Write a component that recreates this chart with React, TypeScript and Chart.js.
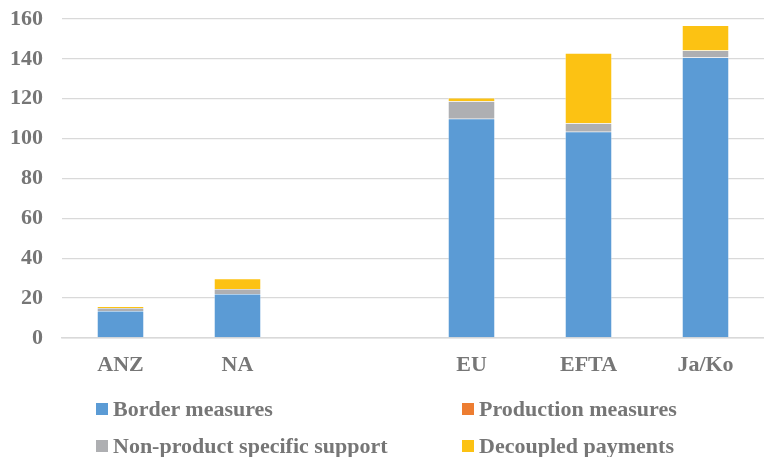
import React, { useEffect, useRef } from "react";
import { Chart, registerables } from "chart.js";

Chart.register(...registerables);

// Regions along the x axis (the blank slot separates the two groups)
const regions = ["ANZ", "NA", "", "EU", "EFTA", "Ja/Ko"];

// Support by category, stacked per region
const borderMeasures = [13.6, 22.1, null, 110.0, 103.5, 140.7];
const productionMeasures = [0, 0, null, 0, 0, 0];
const nonProductSupport = [1.5, 2.5, null, 8.8, 4.2, 3.5];
const decoupledPayments = [0.8, 5.2, null, 1.6, 35.2, 12.6];

const seriesNames = [
  "Border measures",
  "Production measures",
  "Non-product specific support",
  "Decoupled payments",
];
const seriesColors = ["#5B9BD5", "#ED7D31", "#AEAFB2", "#FCC213"];

const yTicks = { min: 0, max: 160, step: 20 };

const FONT = "'Liberation Serif', 'Times New Roman', serif";
const TEXT = "#767676";

export default function App() {
  const canvasRef = useRef<HTMLCanvasElement | null>(null);

  useEffect(() => {
    const canvas = canvasRef.current;
    if (!canvas) return;
    const values = [borderMeasures, productionMeasures, nonProductSupport, decoupledPayments];
    const chart = new Chart(canvas, {
      type: "bar",
      data: {
        labels: regions,
        datasets: values.map((data, i) => ({
          label: seriesNames[i],
          data,
          backgroundColor: seriesColors[i],
          borderColor: "rgba(255,255,255,0.55)",
          borderWidth: 0.6,
          barPercentage: 1,
          categoryPercentage: 0.4,
        })),
      },
      options: {
        responsive: false,
        animation: false,
        devicePixelRatio: 1,
        layout: { autoPadding: false, padding: { top: 19, left: 0, right: 0, bottom: 79 } },
        plugins: {
          legend: { display: false },
          tooltip: { enabled: false },
        },
        scales: {
          x: {
            stacked: true,
            grid: { display: false, drawTicks: false },
            border: { color: "#d9d9d9", width: 1.5 },
            afterFit: (scale: any) => {
              scale.height = 40;
              scale.paddingLeft = 0;
              scale.paddingRight = 0;
            },
            ticks: {
              color: TEXT,
              padding: 14,
              font: { family: FONT, size: 22, weight: "bold" },
            },
          },
          y: {
            stacked: true,
            min: yTicks.min,
            max: yTicks.max,
            grid: { color: "#d9d9d9", lineWidth: 1.3, drawTicks: false },
            border: { display: false },
            afterFit: (scale: any) => {
              scale.width = 62;
              scale.paddingTop = 0;
              scale.paddingBottom = 0;
            },
            ticks: {
              stepSize: yTicks.step,
              color: TEXT,
              padding: 19,
              font: { family: FONT, size: 22, weight: "bold" },
            },
          },
        },
      },
    });
    return () => chart.destroy();
  }, []);

  return (
    <div style={{ position: "absolute", left: 0, top: 0, width: 764, height: 457, background: "#fff" }}>
      <canvas ref={canvasRef} width={764} height={457} style={{ display: "block" }} />
      <div
        style={{
          position: "absolute",
          left: 96,
          top: 390,
          display: "grid",
          gridTemplateColumns: "366px 300px",
          gridAutoRows: "37px",
          fontFamily: FONT,
          fontWeight: "bold",
          fontSize: 22,
          color: TEXT,
        }}
      >
        {seriesNames.map((name, i) => (
          <div key={name} style={{ display: "flex", alignItems: "center", whiteSpace: "nowrap" }}>
            <span
              style={{
                display: "inline-block",
                width: 12,
                height: 12,
                background: seriesColors[i],
                marginRight: 5,
              }}
            />
            {name}
          </div>
        ))}
      </div>
    </div>
  );
}
